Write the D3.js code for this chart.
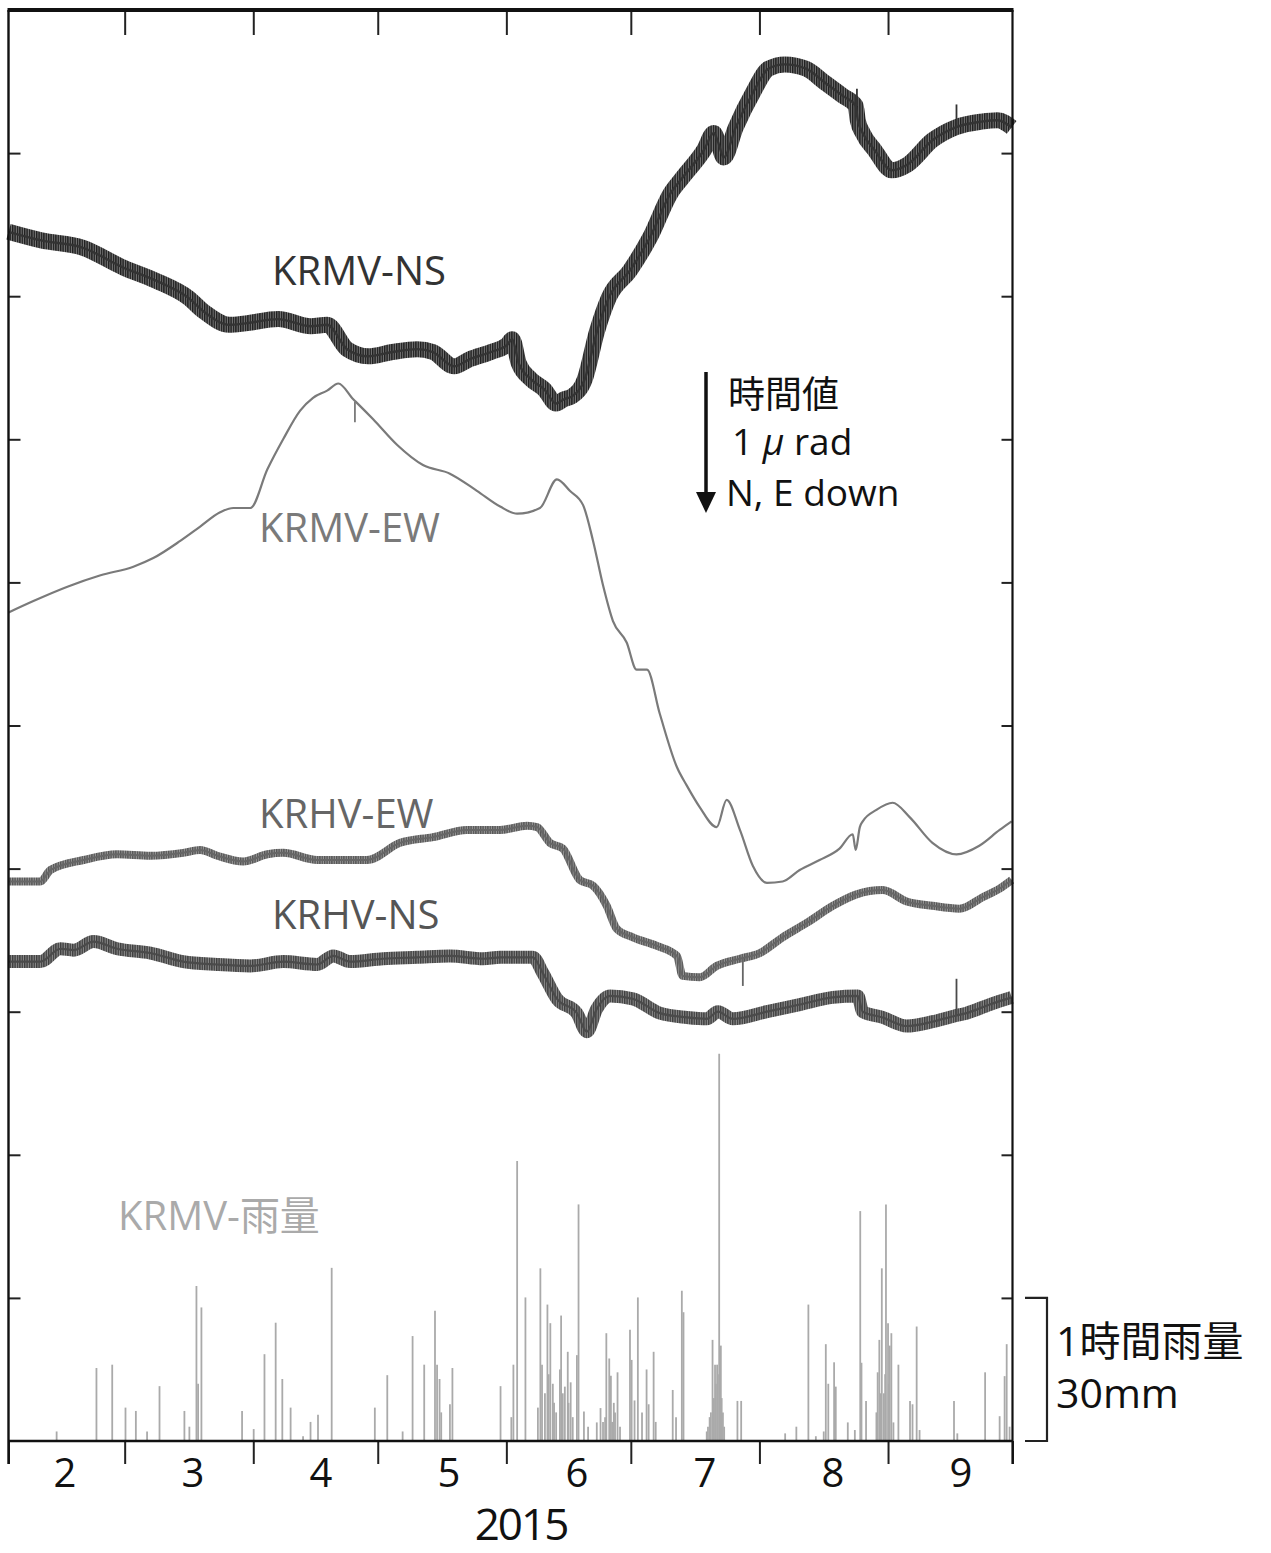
<!DOCTYPE html>
<html>
<head>
<meta charset="utf-8">
<script src="https://cdn.jsdelivr.net/npm/d3@7"></script>
<style>
  body { margin: 0; background: #fff; }
  svg { display: block; }
  .lbl { font-family: "Open Sans", "Noto Sans CJK JP", sans-serif; }
</style>
</head>
<body>
<div id="chart"></div>
<script>
/************************** DATA **************************/
// days counted from 2015-02-01, tilt in micro-radian (1 tick = 1 µrad), rain in mm/h

var monthLabels = ["2", "3", "4", "5", "6", "7", "8", "9"];
var yearLabel = "2015";

var krmvNS = [[0,8.45],[7.9,8.39],[17.8,8.34],[27.7,8.20],[35.4,8.11],[43.3,7.99],[47.2,7.89],[53.2,7.80],
  [57.1,7.81],[65.0,7.84],[72.9,7.79],[76.8,7.80],[81.6,7.63],[86.7,7.58],[92.5,7.61],[98.5,7.63],
  [102.3,7.61],[107.4,7.51],[111.2,7.56],[116.3,7.61],[120.2,7.66],[121.4,7.70],[123.0,7.53],[125.9,7.42],
  [129.1,7.35],[132.0,7.25],[133.9,7.28],[135.8,7.30],[138.9,7.42],[141.8,7.75],[144.7,7.99],[149.8,8.18],
  [154.6,8.41],[159.6,8.72],[162.5,8.83],[167.6,9.02],[170.0,9.14],[171.0,9.08],[172.4,8.97],[175.3,9.18],
  [179.4,9.42],[183.2,9.59],[187.1,9.62],[192.2,9.59],[196.9,9.49],[201.1,9.40],[204.2,9.33],
  [204.7,9.23],[205.9,9.14],[208.8,9.02],[212.9,8.88],[216.7,8.92],[222.7,9.09],[228.3,9.18],
  [234.5,9.22],[238.4,9.23],[241.8,9.18]];

var krmvEW = [[0,5.79],[6.0,5.87],[14.2,5.97],[22.2,6.05],[30.1,6.11],[34.9,6.17],[41.4,6.29],[46.2,6.39],
  [51.0,6.49],[54.2,6.52],[58.3,6.52],[62.4,6.79],[66.2,7.00],[70.3,7.20],[73.4,7.29],[76.8,7.34],
  [79.5,7.39],[83.1,7.28],[83.8,7.26],[87.9,7.14],[93.7,6.96],[99.9,6.82],
  [106.4,6.76],[112.9,6.64],[118.5,6.53],[122.6,6.48],[128.1,6.52],[132.2,6.72],[135.3,6.64],[138.5,6.54],
  [140.9,6.29],[143.3,5.98],[145.7,5.73],[149.0,5.58],[151.4,5.39],[153.9,5.39],[157.0,5.08],[161.1,4.71],
  [163.5,4.58],[166.6,4.43],[170.7,4.29],[173.1,4.48],[176.3,4.27],[179.4,4.02],[182.8,3.90],[186.6,3.91],
  [190.7,3.99],[195.5,4.06],[200.3,4.14],[203.5,4.24],[204.2,4.13],[205.2,4.29],[205.9,4.33],[209.2,4.41],
  [213.1,4.46],[217.2,4.36],[222.7,4.18],[228.5,4.10],[234.0,4.16],[238.9,4.27],[241.8,4.33]];

var krhvEW = [[0,3.91],[7.7,3.91],[10.1,3.99],[18.1,4.06],[26.2,4.10],[34.2,4.09],[42.1,4.11],[46.2,4.13],
  [50.3,4.09],[56.6,4.05],[62.4,4.10],[66.2,4.11],[74.4,4.06],[78.3,4.06],[86.4,4.06],[94.4,4.18],
  [102.3,4.22],[110.5,4.27],[118.5,4.27],[125.0,4.30],[127.4,4.29],[130.5,4.18],[133.6,4.14],[137.7,3.92],
  [140.9,3.88],[144.2,3.74],[146.6,3.58],[150.5,3.52],[156.3,3.46],[161.1,3.39],[162.5,3.25],[166.6,3.24],
  [170.7,3.32],[176.3,3.37],[181.1,3.41],[186.6,3.52],[192.4,3.62],
  [198.7,3.74],[204.4,3.82],[210.7,3.85],[216.5,3.77],[222.7,3.74],[229.2,3.72],[234.8,3.80],[238.9,3.86],
  [241.8,3.92]];

var krhvNS = [[0,3.35],[7.7,3.35],[12.5,3.44],[15.7,3.43],[20.5,3.49],[26.2,3.44],[34.2,3.41],[42.1,3.35],
  [50.3,3.33],[58.3,3.32],[66.2,3.35],[74.4,3.33],[78.3,3.39],[82.3,3.35],[90.3,3.37],[98.5,3.38],
  [106.4,3.39],[114.4,3.37],[118.5,3.38],[126.4,3.38],[128.8,3.27],[132.2,3.09],[137.0,2.99],[139.4,2.86],
  [141.8,3.02],[145.0,3.11],[150.5,3.09],[157.0,2.99],[163.5,2.96],[168.3,2.95],[171.0,3.00],[174.6,2.95],
  [182.8,3.00],[190.7,3.05],[198.7,3.10],[204.7,3.11],[205.9,3.00],[210.7,2.96],[216.5,2.90],[222.7,2.93],
  [228.0,2.97],[230.9,2.99],[236.5,3.05],[241.8,3.10]];

// short instrument spikes [series index, day, from, to]
var glitches = [[0,204.5,9.33,9.45],[0,228.5,9.18,9.34],[1,83.5,7.26,7.12],[2,177.0,3.37,3.18],[3,228.5,2.97,3.23]];

// KRMV hourly rainfall [day, mm]
var rain = [[11.6,2],[21.2,15.3],[25.0,16],[28.2,7],[30.7,6.3],[33.4,2],[36.4,11.5],[42.4,6.3],[43.6,3],
  [45.3,32.5],[45.7,12],[46.5,28],[56.3,6.3],[59.1,2.5],[61.7,18.2],[64.4,24.8],[66.0,13],[68.0,7],
  [71.0,1],[72.8,4],[74.6,5.5],[77.9,36.3],[88.3,7],[91.3,13.8],[95.0,2],[97.4,22],[100.2,16],[102.8,27.3],
  [103.3,16],[103.9,13],[104.3,6],[106.4,7.7],[107.0,15.3],[118.6,11.5],[121.2,5],[121.7,16],[122.6,58.7],
  [124.6,30.1],[127.6,7],[128.2,36.2],[128.6,16],[129.3,10],[129.9,28.6],[130.2,14],[130.6,24.7],[131.2,12],
  [131.5,8],[132.0,6],[132.9,15],[133.2,26.3],[133.6,10],[134.1,11.4],[134.8,18.7],[135.0,8],[135.5,12.3],
  [136.0,5],[137.0,18],[137.4,49.6],[138.7,6.2],[139.7,3],[141.8,3.9],[142.7,6.9],[143.3,4],[143.8,5],
  [144.1,22.6],[144.8,17.3],[145.2,13.7],[145.5,4],[145.9,8],[146.2,6],[146.8,14.4],[147.4,3],[149.8,23.3],
  [150.2,17],[150.9,8.5],[151.7,30.1],[152.7,6],[153.8,15],[154.3,7.7],[155.5,18.7],[156.0,4],[160.1,10.7],
  [160.9,5],[162.3,31.5],[162.7,27],[168.3,2],[168.6,3],[169.0,5],[169.3,6],[169.7,21.2],[170.0,9],
  [170.3,16],[170.5,12],[170.8,16],[171.0,14],[171.3,81.2],[171.7,20],[171.9,9],[172.2,6],[172.5,3],
  [175.7,8.4],[176.6,8.4],[187.2,1.6],[189.9,3],[192.8,28.6],[194.6,1],[196.5,2],[197.0,20.3],[197.6,12],
  [199.0,16.5],[199.4,11.4],[202.3,3.9],[204.0,2.3],[205.3,48.2],[205.6,16.4],[206.7,8.4],[209.2,6],
  [209.5,14.4],[209.9,21.2],[210.2,10],[210.5,36.2],[211.0,10],[211.3,14],[211.5,49.6],[212.0,24.7],
  [212.2,12],[212.4,20],[212.8,22.6],[213.3,3.9],[214.5,16],[217.3,8.4],[217.9,7.7],[218.9,24],[219.6,2.3],
  [227.9,8.4],[228.7,1.6],[235.4,14.4],[238.9,5.2],[240.1,13.6],[240.6,20.3],[241.3,3]];

/************************** RENDER **************************/

var W = 1271, H = 1553;
var padL = 8.5, padR = 1012.5, padT = 10, padB = 1441;

var start = new Date(2015, 1, 1), end = new Date(2015, 9, 1);
function toDate(d) { return new Date(start.getTime() + d * 864e5); }

var x = d3.scaleTime().domain([start, end]).range([padL, padR]);
var y = d3.scaleLinear().domain([0, 10]).range([padB, padT]);
var yRain = d3.scaleLinear().domain([0, 30]).range([padB, y(1)]);

var svg = d3.select("#chart").append("svg")
    .attr("width", W)
    .attr("height", H);

var defs = svg.append("defs");

// series look: band width + hatch colours for the daily oscillation
var series = [
  { name: "KRMV-NS", data: krmvNS, width: 16, bg: "#7a7a7a", stripe: "#1e1e1e", core: "#333", coreW: 2.4 },
  { name: "KRMV-EW", data: krmvEW, width: 0, bg: null, stripe: null, core: "#7a7a7a", coreW: 2.2 },
  { name: "KRHV-EW", data: krhvEW, width: 8, bg: "#999", stripe: "#555", core: "#666", coreW: 2 },
  { name: "KRHV-NS", data: krhvNS, width: 13, bg: "#8e8e8e", stripe: "#3e3e3e", core: "#4a4a4a", coreW: 2.2 }
];

series.forEach(function(s, i) {
  if (!s.bg) return;
  var p = defs.append("pattern")
      .attr("id", "hatch" + i)
      .attr("patternUnits", "userSpaceOnUse")
      .attr("width", 2.4)
      .attr("height", 6);
  p.append("rect").attr("width", 2.4).attr("height", 6).attr("fill", s.bg);
  p.append("rect").attr("width", 1.4).attr("height", 6).attr("fill", s.stripe);
});

// rain bars
svg.append("g").selectAll("line")
    .data(rain)
    .enter().append("line")
      .attr("x1", function(d) { return x(toDate(d[0])); })
      .attr("x2", function(d) { return x(toDate(d[0])); })
      .attr("y1", yRain(0))
      .attr("y2", function(d) { return yRain(d[1]); })
      .attr("stroke", "#aaa")
      .attr("stroke-width", 1.8);

var line = d3.line()
    .curve(d3.curveMonotoneX)
    .x(function(d) { return x(toDate(d[0])); })
    .y(function(d) { return y(d[1]); });

var traces = svg.append("g");
series.forEach(function(s, i) {
  if (s.bg) {
    traces.append("path")
        .attr("d", line(s.data))
        .attr("fill", "none")
        .attr("stroke", "url(#hatch" + i + ")")
        .attr("stroke-width", s.width)
        .attr("stroke-linejoin", "round");
  }
  traces.append("path")
      .attr("d", line(s.data))
      .attr("fill", "none")
      .attr("stroke", s.core)
      .attr("stroke-width", s.coreW)
      .attr("stroke-linejoin", "round");
});

traces.selectAll(".glitch")
    .data(glitches)
    .enter().append("line")
      .attr("class", "glitch")
      .attr("x1", function(d) { return x(toDate(d[1])); })
      .attr("x2", function(d) { return x(toDate(d[1])); })
      .attr("y1", function(d) { return y(d[2]); })
      .attr("y2", function(d) { return y(d[3]); })
      .attr("stroke", function(d) { return series[d[0]].core; })
      .attr("stroke-width", 1.8);

// frame + ticks
var months = d3.timeMonth.range(start, d3.timeDay.offset(end, 1));
var inner = months.slice(1, -1);

function tickStyle(g) {
  g.select(".domain").remove();
  g.selectAll("line").attr("stroke", "#222").attr("stroke-width", 2);
}

svg.append("g")
    .attr("transform", "translate(0," + padT + ")")
    .call(d3.axisBottom(x).tickValues(inner).tickSize(25).tickFormat(""))
    .call(tickStyle);

svg.append("g")
    .attr("transform", "translate(0," + padB + ")")
    .call(d3.axisBottom(x).tickValues(months).tickSize(23).tickFormat(""))
    .call(tickStyle);

svg.append("g")
    .attr("transform", "translate(" + padL + ",0)")
    .call(d3.axisRight(y).tickValues(d3.range(1, 10)).tickSize(12).tickFormat(""))
    .call(tickStyle);

svg.append("g")
    .attr("transform", "translate(" + padR + ",0)")
    .call(d3.axisLeft(y).tickValues(d3.range(1, 10)).tickSize(11).tickFormat(""))
    .call(tickStyle);

var frame = svg.append("g").attr("stroke", "#111").attr("fill", "none");
frame.append("line").attr("x1", padL - 1).attr("x2", padR + 1).attr("y1", padT).attr("y2", padT).attr("stroke-width", 4);
frame.append("line").attr("x1", padL).attr("x2", padR).attr("y1", padB).attr("y2", padB).attr("stroke-width", 2.6);
frame.append("line").attr("x1", padL).attr("x2", padL).attr("y1", padT).attr("y2", padB + 23).attr("stroke-width", 2.4);
frame.append("line").attr("x1", padR).attr("x2", padR).attr("y1", padT).attr("y2", padB + 23).attr("stroke-width", 2.2);

// month labels
svg.append("g").selectAll("text")
    .data(monthLabels)
    .enter().append("text")
      .attr("class", "lbl")
      .attr("x", function(d, i) { return 65 + i * 128; })
      .attr("y", 1487)
      .attr("text-anchor", "middle")
      .attr("font-size", 40)
      .attr("fill", "#111")
      .text(function(d) { return d; });

svg.append("text")
    .attr("class", "lbl")
    .attr("x", 521)
    .attr("y", 1540)
    .attr("text-anchor", "middle")
    .attr("font-size", 44)
    .attr("letter-spacing", -2)
    .attr("fill", "#111")
    .text(yearLabel);

// series names
var names = [
  { t: "KRMV-NS", x: 272, y: 285, c: "#333" },
  { t: "KRMV-EW", x: 259, y: 542, c: "#7a7a7a" },
  { t: "KRHV-EW", x: 259, y: 828, c: "#666" },
  { t: "KRHV-NS", x: 272, y: 929, c: "#555" },
  { t: "KRMV-雨量", x: 118, y: 1230, c: "#aaa" }
];
svg.append("g").selectAll("text")
    .data(names)
    .enter().append("text")
      .attr("class", "lbl")
      .attr("x", function(d) { return d.x; })
      .attr("y", function(d) { return d.y; })
      .attr("font-size", 40)
      .attr("fill", function(d) { return d.c; })
      .text(function(d) { return d.t; });

// 1 µrad scale arrow
var ax = 706;
svg.append("line")
    .attr("x1", ax).attr("x2", ax)
    .attr("y1", 372).attr("y2", 496)
    .attr("stroke", "#111").attr("stroke-width", 3.5);
svg.append("path")
    .attr("d", "M" + (ax - 10) + ",492L" + (ax + 10) + ",492L" + ax + ",513Z")
    .attr("fill", "#111");

var note = svg.append("g").attr("class", "lbl").attr("fill", "#111").attr("font-size", 37);
note.append("text").attr("x", 728).attr("y", 408).text("時間値");
var t2 = note.append("text").attr("x", 732).attr("y", 455);
t2.append("tspan").text("1 ");
t2.append("tspan").attr("font-style", "italic").text("μ");
t2.append("tspan").text(" rad");
note.append("text").attr("x", 726).attr("y", 506).text("N, E down");

// rain scale bracket
svg.append("path")
    .attr("d", "M1025," + yRain(30) + "H1047V" + yRain(0) + "H1025")
    .attr("fill", "none")
    .attr("stroke", "#222")
    .attr("stroke-width", 2.2);

var rnote = svg.append("g").attr("class", "lbl").attr("fill", "#111").attr("font-size", 41);
rnote.append("text").attr("x", 1056).attr("y", 1356).text("1時間雨量");
rnote.append("text").attr("x", 1056).attr("y", 1408).text("30mm");
</script>
</body>
</html>
